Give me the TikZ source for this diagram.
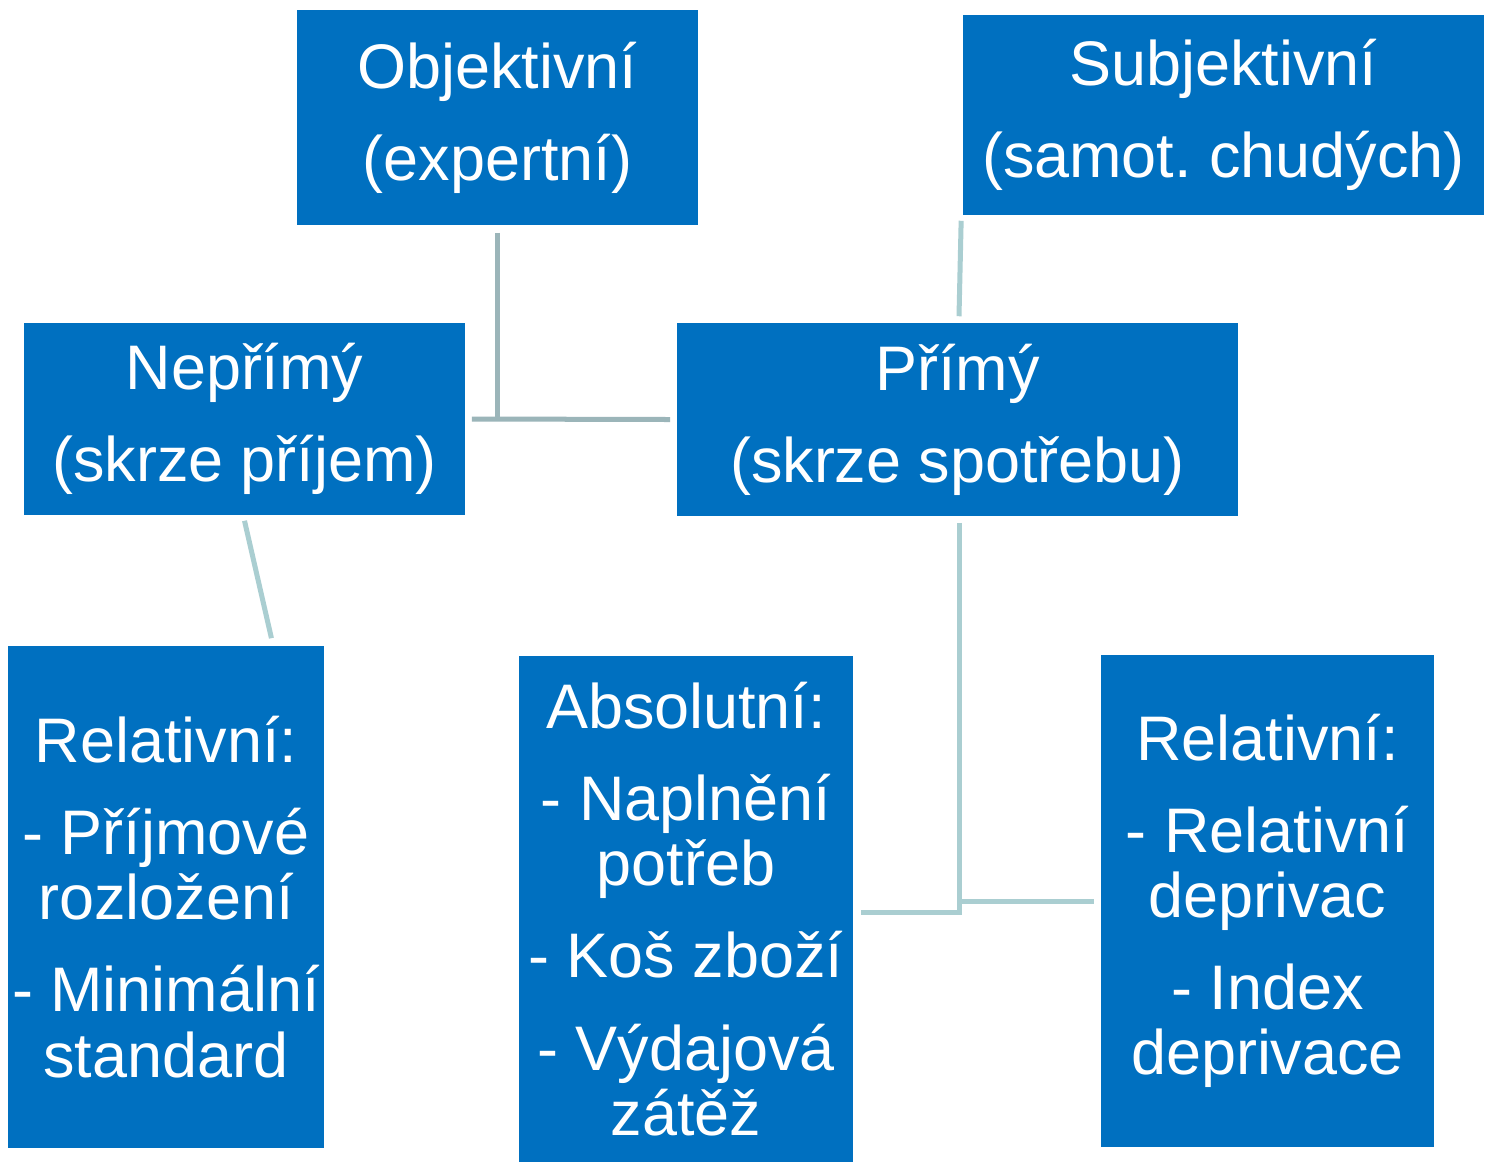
\documentclass[tikz,border=0pt]{standalone}
\usepackage{fontspec}
\setmainfont{Liberation Sans}
\usetikzlibrary{calc}
\definecolor{boxblue}{HTML}{0070C0}
\definecolor{lineA}{HTML}{9BB5B9}
\definecolor{lineB}{HTML}{AACED1}
\tikzset{
  box/.style={fill=boxblue, draw=none, text=white, align=center, inner sep=0pt,
    font=\frenchspacing\fontsize{17.9pt}{18.5pt}\selectfont},
  connA/.style={draw=lineA, line width=0.05cm},
  connB/.style={draw=lineB, line width=0.05cm}
}
\newcommand{\pgap}{\\[0.27cm]}
\begin{document}
\begin{tikzpicture}[x=0.01cm,y=-0.01cm]
\useasboundingbox[fill=white] (0,0) rectangle (1485,1163);
\node[box, minimum width=4.01cm, minimum height=2.15cm] (o) at (497.5,117.5) {Objektivní\pgap(expertní)};
\node[box, minimum width=5.21cm, minimum height=2.00cm] (s) at (1223.5,115) {Subjektivní\pgap(samot. chudých)};
\node[box, minimum width=4.41cm, minimum height=1.92cm] (n) at (244.5,419) {Nepřímý\pgap(skrze příjem)};
\node[box, minimum width=5.61cm, minimum height=1.93cm] (p) at (957.5,419.5) {Přímý\pgap(skrze spotřebu)};
\node[box, minimum width=3.16cm, minimum height=5.02cm] (rl) at (166,897) {Relativní:\pgap- Příjmové\\rozložení\pgap- Minimální\\standard};
\node[box, minimum width=3.34cm, minimum height=5.06cm] (a) at (686,909) {Absolutní:\pgap- Naplnění\\potřeb\pgap- Koš zboží\pgap- Výdajová\\zátěž};
\node[box, minimum width=3.33cm, minimum height=4.92cm] (rr) at (1267.5,901) {Relativní:\pgap- Relativní\\deprivac\pgap- Index\\deprivace};
% connectors
\draw[connA] ([yshift=-0.07cm]o.south) -- (o.south |- n.east);
\draw[connA] ([xshift=0.06cm]n.east) -- ([xshift=-0.06cm]p.west);
\draw[connB] ([shift={(-0.01cm,-0.05cm)}]s.south west) -- ([shift={(0.015cm,0.06cm)}]p.north);
\draw[connB] ([yshift=-0.05cm]n.south) -- ($(rl.north west)!0.832!(rl.north east)+(0,-7)$);
\coordinate (pj) at ([shift={(0.015cm,-3.95cm)}]p.south);
\draw[connB] ([shift={(0.015cm,-0.06cm)}]p.south) -- (pj) -- ([xshift=0.07cm]pj -| a.east);
\draw[connB] (pj |- rr.west) -- ([xshift=-0.06cm]rr.west);
\end{tikzpicture}
\end{document}
